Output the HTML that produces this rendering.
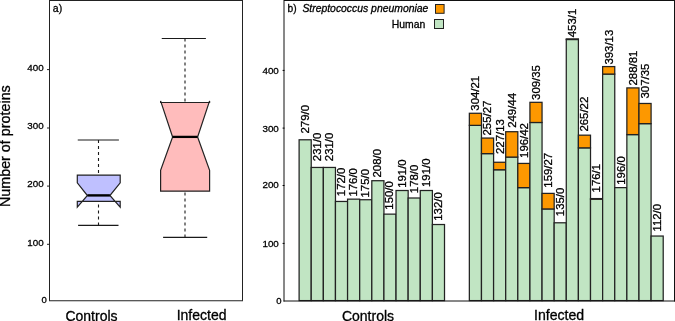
<!DOCTYPE html><html><head><meta charset="utf-8"><style>
html,body{margin:0;padding:0;background:#fff;}
body{width:675px;height:321px;overflow:hidden;}
svg{display:block;will-change:transform;font-family:"Liberation Sans",sans-serif;} text{fill:#000;stroke:#000;stroke-width:0.3px;}
</style></head><body>
<svg width="675" height="321" viewBox="0 0 675 321">
<rect width="675" height="321" fill="#fff"/>
<line x1="98.50" y1="139.90" x2="98.50" y2="175.10" stroke="#1a1a1a" stroke-width="1.1" stroke-dasharray="3,3"/>
<line x1="98.50" y1="225.40" x2="98.50" y2="201.40" stroke="#1a1a1a" stroke-width="1.1" stroke-dasharray="3,3"/>
<line x1="77.75" y1="139.95" x2="118.90" y2="139.95" stroke="#1a1a1a" stroke-width="1.1"/>
<line x1="78.10" y1="225.40" x2="118.50" y2="225.40" stroke="#1a1a1a" stroke-width="1.1"/>
<polygon points="77.30,201.40 77.30,207.20 87.40,195.50 77.30,182.90 77.30,175.10 120.20,175.10 120.20,182.90 109.90,195.50 120.20,207.20 120.20,201.40" fill="#bfc0ff" stroke="#222" stroke-width="1.2" stroke-linejoin="miter"/>
<line x1="87.4" y1="195.4" x2="109.9" y2="195.4" stroke="#000" stroke-width="2.4"/>
<line x1="185.00" y1="38.45" x2="185.00" y2="102.50" stroke="#1a1a1a" stroke-width="1.1" stroke-dasharray="3,3"/>
<line x1="185.00" y1="237.40" x2="185.00" y2="191.20" stroke="#1a1a1a" stroke-width="1.1" stroke-dasharray="3,3"/>
<line x1="161.75" y1="38.45" x2="205.90" y2="38.45" stroke="#1a1a1a" stroke-width="1.1"/>
<line x1="163.10" y1="237.40" x2="207.20" y2="237.40" stroke="#1a1a1a" stroke-width="1.1"/>
<polygon points="160.60,191.20 160.60,170.30 172.60,137.00 160.60,100.90 160.60,102.50 209.60,102.50 209.60,100.90 197.60,137.00 209.60,170.30 209.60,191.20" fill="#ffbcbc" stroke="#222" stroke-width="1.2" stroke-linejoin="miter"/>
<line x1="172.6" y1="136.9" x2="197.6" y2="136.9" stroke="#000" stroke-width="2.3"/>
<path d="M49.5,0 V300.75 M242.5,0 V300.75 M49,0.5 H243 M49,300.75 H243" fill="none" stroke="#222" stroke-width="1"/>
<line x1="47" y1="244.3" x2="49.5" y2="244.3" stroke="#222" stroke-width="1"/>
<text x="43.7" y="246.45" font-size="9.8" text-anchor="end" fill="#111">100</text>
<line x1="47" y1="186.1" x2="49.5" y2="186.1" stroke="#222" stroke-width="1"/>
<text x="43.7" y="187.15" font-size="9.8" text-anchor="end" fill="#111">200</text>
<line x1="47" y1="128.0" x2="49.5" y2="128.0" stroke="#222" stroke-width="1"/>
<text x="43.7" y="129.45" font-size="9.8" text-anchor="end" fill="#111">300</text>
<line x1="47" y1="69.6" x2="49.5" y2="69.6" stroke="#222" stroke-width="1"/>
<text x="43.7" y="71.05" font-size="9.8" text-anchor="end" fill="#111">400</text>
<text x="46.8" y="302.6" font-size="9.5" text-anchor="end" fill="#111">0</text>
<text x="52.8" y="12.2" font-size="10.5" fill="#111">a)</text>
<text transform="translate(10.2,146.15) rotate(-90)" font-size="14.33" text-anchor="middle" fill="#111">Number of proteins</text>
<text x="91.5" y="321.1" font-size="14" text-anchor="middle" fill="#111">Controls</text>
<text x="201.6" y="320.4" font-size="14" text-anchor="middle" fill="#111">Infected</text>
<rect x="299.11" y="139.78" width="12.12" height="160.82" fill="#c1e5c3" stroke="#222" stroke-width="1.25"/>
<rect x="311.23" y="167.45" width="12.12" height="133.15" fill="#c1e5c3" stroke="#222" stroke-width="1.25"/>
<rect x="323.34" y="167.45" width="12.12" height="133.15" fill="#c1e5c3" stroke="#222" stroke-width="1.25"/>
<rect x="335.46" y="201.46" width="12.12" height="99.14" fill="#c1e5c3" stroke="#222" stroke-width="1.25"/>
<rect x="347.57" y="199.15" width="12.12" height="101.45" fill="#c1e5c3" stroke="#222" stroke-width="1.25"/>
<rect x="359.69" y="199.73" width="12.12" height="100.87" fill="#c1e5c3" stroke="#222" stroke-width="1.25"/>
<rect x="371.81" y="180.71" width="12.12" height="119.89" fill="#c1e5c3" stroke="#222" stroke-width="1.25"/>
<rect x="383.92" y="214.14" width="12.12" height="86.46" fill="#c1e5c3" stroke="#222" stroke-width="1.25"/>
<rect x="396.04" y="190.51" width="12.12" height="110.09" fill="#c1e5c3" stroke="#222" stroke-width="1.25"/>
<rect x="408.15" y="198.00" width="12.12" height="102.60" fill="#c1e5c3" stroke="#222" stroke-width="1.25"/>
<rect x="420.27" y="190.51" width="12.12" height="110.09" fill="#c1e5c3" stroke="#222" stroke-width="1.25"/>
<rect x="432.39" y="224.52" width="12.12" height="76.08" fill="#c1e5c3" stroke="#222" stroke-width="1.25"/>
<rect x="469.35" y="125.37" width="12.12" height="175.23" fill="#c1e5c3" stroke="#222" stroke-width="1.25"/>
<rect x="469.35" y="113.27" width="12.12" height="12.10" fill="#fd9800" stroke="#222" stroke-width="1.25"/>
<rect x="481.47" y="153.62" width="12.12" height="146.98" fill="#c1e5c3" stroke="#222" stroke-width="1.25"/>
<rect x="481.47" y="138.06" width="12.12" height="15.56" fill="#fd9800" stroke="#222" stroke-width="1.25"/>
<rect x="493.58" y="169.76" width="12.12" height="130.84" fill="#c1e5c3" stroke="#222" stroke-width="1.25"/>
<rect x="493.58" y="162.26" width="12.12" height="7.49" fill="#fd9800" stroke="#222" stroke-width="1.25"/>
<rect x="505.70" y="157.08" width="12.12" height="143.52" fill="#c1e5c3" stroke="#222" stroke-width="1.25"/>
<rect x="505.70" y="131.71" width="12.12" height="25.36" fill="#fd9800" stroke="#222" stroke-width="1.25"/>
<rect x="517.81" y="187.63" width="12.12" height="112.97" fill="#c1e5c3" stroke="#222" stroke-width="1.25"/>
<rect x="517.81" y="163.42" width="12.12" height="24.21" fill="#fd9800" stroke="#222" stroke-width="1.25"/>
<rect x="529.93" y="122.49" width="12.12" height="178.11" fill="#c1e5c3" stroke="#222" stroke-width="1.25"/>
<rect x="529.93" y="102.32" width="12.12" height="20.17" fill="#fd9800" stroke="#222" stroke-width="1.25"/>
<rect x="542.05" y="208.95" width="12.12" height="91.65" fill="#c1e5c3" stroke="#222" stroke-width="1.25"/>
<rect x="542.05" y="193.39" width="12.12" height="15.56" fill="#fd9800" stroke="#222" stroke-width="1.25"/>
<rect x="554.16" y="222.79" width="12.12" height="77.81" fill="#c1e5c3" stroke="#222" stroke-width="1.25"/>
<rect x="566.28" y="39.49" width="12.12" height="261.11" fill="#c1e5c3" stroke="#222" stroke-width="1.25"/>
<rect x="566.28" y="38.91" width="12.12" height="0.58" fill="#fd9800" stroke="#222" stroke-width="1.25"/>
<rect x="578.39" y="147.85" width="12.12" height="152.75" fill="#c1e5c3" stroke="#222" stroke-width="1.25"/>
<rect x="578.39" y="135.17" width="12.12" height="12.68" fill="#fd9800" stroke="#222" stroke-width="1.25"/>
<rect x="590.51" y="199.15" width="12.12" height="101.45" fill="#c1e5c3" stroke="#222" stroke-width="1.25"/>
<rect x="590.51" y="198.58" width="12.12" height="0.58" fill="#fd9800" stroke="#222" stroke-width="1.25"/>
<rect x="602.63" y="74.07" width="12.12" height="226.53" fill="#c1e5c3" stroke="#222" stroke-width="1.25"/>
<rect x="602.63" y="66.58" width="12.12" height="7.49" fill="#fd9800" stroke="#222" stroke-width="1.25"/>
<rect x="614.74" y="187.63" width="12.12" height="112.97" fill="#c1e5c3" stroke="#222" stroke-width="1.25"/>
<rect x="626.86" y="134.60" width="12.12" height="166.00" fill="#c1e5c3" stroke="#222" stroke-width="1.25"/>
<rect x="626.86" y="87.91" width="12.12" height="46.69" fill="#fd9800" stroke="#222" stroke-width="1.25"/>
<rect x="638.97" y="123.65" width="12.12" height="176.95" fill="#c1e5c3" stroke="#222" stroke-width="1.25"/>
<rect x="638.97" y="103.47" width="12.12" height="20.17" fill="#fd9800" stroke="#222" stroke-width="1.25"/>
<rect x="651.09" y="236.04" width="12.12" height="64.56" fill="#c1e5c3" stroke="#222" stroke-width="1.25"/>
<text transform="translate(308.67,133.48) rotate(-90)" font-size="11.4" fill="#111">279/0</text>
<text transform="translate(320.78,161.15) rotate(-90)" font-size="11.4" fill="#111">231/0</text>
<text transform="translate(332.90,161.15) rotate(-90)" font-size="11.4" fill="#111">231/0</text>
<text transform="translate(345.02,196.16) rotate(-90)" font-size="11.4" fill="#111">172/0</text>
<text transform="translate(357.13,196.55) rotate(-90)" font-size="11.4" fill="#111">176/0</text>
<text transform="translate(369.25,197.48) rotate(-90)" font-size="11.4" fill="#111">175/0</text>
<text transform="translate(381.36,177.51) rotate(-90)" font-size="11.4" fill="#111">208/0</text>
<text transform="translate(393.48,209.64) rotate(-90)" font-size="11.4" fill="#111">150/0</text>
<text transform="translate(405.60,187.81) rotate(-90)" font-size="11.4" fill="#111">191/0</text>
<text transform="translate(417.71,193.20) rotate(-90)" font-size="11.4" fill="#111">178/0</text>
<text transform="translate(429.83,187.01) rotate(-90)" font-size="11.4" fill="#111">191/0</text>
<text transform="translate(441.94,220.72) rotate(-90)" font-size="11.4" fill="#111">132/0</text>
<text transform="translate(479.31,110.67) rotate(-90)" font-size="11.4" fill="#111">304/21</text>
<text transform="translate(491.42,135.46) rotate(-90)" font-size="11.4" fill="#111">255/27</text>
<text transform="translate(503.54,153.96) rotate(-90)" font-size="11.4" fill="#111">227/13</text>
<text transform="translate(515.66,127.86) rotate(-90)" font-size="11.4" fill="#111">249/44</text>
<text transform="translate(527.77,157.92) rotate(-90)" font-size="11.4" fill="#111">196/42</text>
<text transform="translate(539.89,99.92) rotate(-90)" font-size="11.4" fill="#111">309/35</text>
<text transform="translate(552.00,187.69) rotate(-90)" font-size="11.4" fill="#111">159/27</text>
<text transform="translate(564.12,216.19) rotate(-90)" font-size="11.4" fill="#111">135/0</text>
<text transform="translate(576.24,37.21) rotate(-90)" font-size="11.4" fill="#111">453/1</text>
<text transform="translate(588.35,131.57) rotate(-90)" font-size="11.4" fill="#111">265/22</text>
<text transform="translate(600.47,192.38) rotate(-90)" font-size="11.4" fill="#111">176/1</text>
<text transform="translate(612.58,64.58) rotate(-90)" font-size="11.4" fill="#111">393/13</text>
<text transform="translate(624.70,184.73) rotate(-90)" font-size="11.4" fill="#111">196/0</text>
<text transform="translate(636.82,85.51) rotate(-90)" font-size="11.4" fill="#111">288/81</text>
<text transform="translate(648.93,98.47) rotate(-90)" font-size="11.4" fill="#111">307/35</text>
<text transform="translate(661.05,231.54) rotate(-90)" font-size="11.4" fill="#111">112/0</text>
<path d="M284,0 V301.5 M674.5,0 V301.5 M284,0.5 H675 M283.5,301 H675" fill="none" stroke="#111" stroke-width="1"/>
<line x1="282.6" y1="243.4" x2="284.5" y2="243.4" stroke="#000" stroke-width="1"/>
<text x="278.8" y="247.35" font-size="9.8" text-anchor="end" fill="#111">100</text>
<line x1="282.6" y1="185.5" x2="284.5" y2="185.5" stroke="#000" stroke-width="1"/>
<text x="278.8" y="188.20" font-size="9.8" text-anchor="end" fill="#111">200</text>
<line x1="282.6" y1="128.1" x2="284.5" y2="128.1" stroke="#000" stroke-width="1"/>
<text x="278.8" y="132.05" font-size="9.8" text-anchor="end" fill="#111">300</text>
<line x1="282.6" y1="70.4" x2="284.5" y2="70.4" stroke="#000" stroke-width="1"/>
<text x="278.8" y="73.50" font-size="9.8" text-anchor="end" fill="#111">400</text>
<text x="281.6" y="303.6" font-size="9.5" text-anchor="end" fill="#111">0</text>
<text x="287.6" y="11.9" font-size="10.2" fill="#111">b)</text>
<text x="302.4" y="12.2" font-size="10.4" font-style="italic" fill="#111">Streptococcus pneumoniae</text>
<text x="425.3" y="28" font-size="10.4" text-anchor="end" fill="#111">Human</text>
<rect x="435.5" y="4.5" width="8.6" height="8.8" fill="#fd9800" stroke="#222" stroke-width="1"/>
<rect x="434.5" y="19.5" width="9" height="9" fill="#c1e5c3" stroke="#222" stroke-width="1"/>
<text x="368" y="321.1" font-size="14" text-anchor="middle" fill="#111">Controls</text>
<text x="559.1" y="320.3" font-size="14.1" text-anchor="middle" fill="#111">Infected</text>
</svg></body></html>
